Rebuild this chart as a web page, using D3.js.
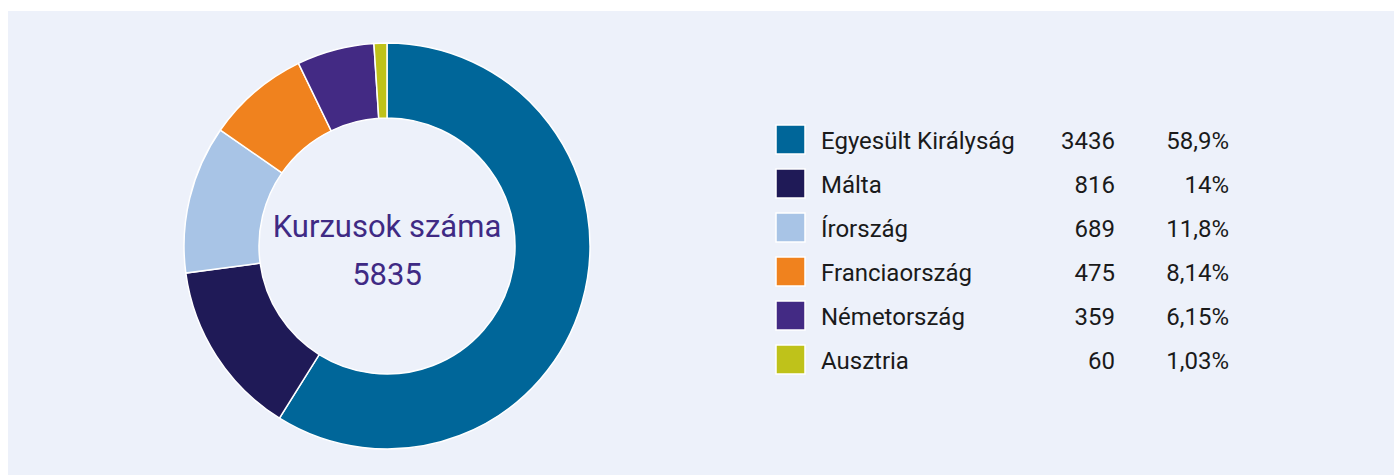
<!DOCTYPE html>
<html>
<head>
<meta charset="utf-8">
<script src="https://cdn.jsdelivr.net/npm/d3@7"></script>
<style>
  html, body { margin: 0; padding: 0; background: #fff; }
  svg { display: block; font-family: Roboto, "Noto Sans", sans-serif; }
</style>
</head>
<body>
<div id="chart"></div>
<script>
const countries = ['Egyesült Királyság', 'Málta', 'Írország', 'Franciaország', 'Németország', 'Ausztria']
const courses = [3436, 816, 689, 475, 359, 60]
const shareLabels = ['58,9%', '14%', '11,8%', '8,14%', '6,15%', '1,03%']
const colors = ['#006699', '#1f1a57', '#a8c4e6', '#f0821e', '#432a84', '#bfc21a']
const centerTitle = 'Kurzusok száma'

const W = 1394
const H = 475

const svg = d3.select('#chart').append('svg')
  .attr('width', W)
  .attr('height', H)

// light panel
svg.append('rect')
  .attr('x', 8).attr('y', 11)
  .attr('width', W - 8).attr('height', H - 11)
  .attr('fill', '#edf1fa')

const rows = countries.map((c, i) => ({ name: c, value: courses[i], share: shareLabels[i], color: colors[i] }))

// donut
const cx = 387
const cy = 246
const pie = d3.pie().sort(null).value(d => d.value)
const arc = d3.arc().innerRadius(128).outerRadius(203)

const g = svg.append('g').attr('transform', `translate(${cx},${cy})`)
g.selectAll('path')
  .data(pie(rows))
  .join('path')
  .attr('d', arc)
  .attr('fill', d => d.data.color)
  .attr('stroke', '#fff')
  .attr('stroke-width', 1.5)

const total = d3.sum(courses)
g.append('text')
  .attr('text-anchor', 'middle')
  .attr('y', -9)
  .attr('font-size', 31)
  .attr('fill', '#3f2a84')
  .text(centerTitle)
g.append('text')
  .attr('text-anchor', 'middle')
  .attr('y', 39)
  .attr('font-size', 31)
  .attr('fill', '#3f2a84')
  .text(total)

// legend table
const rowY = d3.scaleBand()
  .domain(countries)
  .range([123, 387])

const legend = svg.append('g')
const item = legend.selectAll('g')
  .data(rows)
  .join('g')
  .attr('transform', d => `translate(0,${rowY(d.name)})`)

item.append('rect')
  .attr('x', 776).attr('y', 2)
  .attr('width', 29).attr('height', 29)
  .attr('fill', d => d.color)
  .attr('stroke', '#fff')
  .attr('stroke-width', 1.5)

item.append('text')
  .attr('x', 821).attr('y', 26)
  .attr('font-size', 24)
  .attr('fill', '#1a1a1a')
  .text(d => d.name)

item.append('text')
  .attr('x', 1115).attr('y', 26)
  .attr('text-anchor', 'end')
  .attr('font-size', 24)
  .attr('fill', '#1a1a1a')
  .text(d => d.value)

item.append('text')
  .attr('x', 1229).attr('y', 26)
  .attr('text-anchor', 'end')
  .attr('font-size', 24)
  .attr('fill', '#1a1a1a')
  .text(d => d.share)
</script>
</body>
</html>
